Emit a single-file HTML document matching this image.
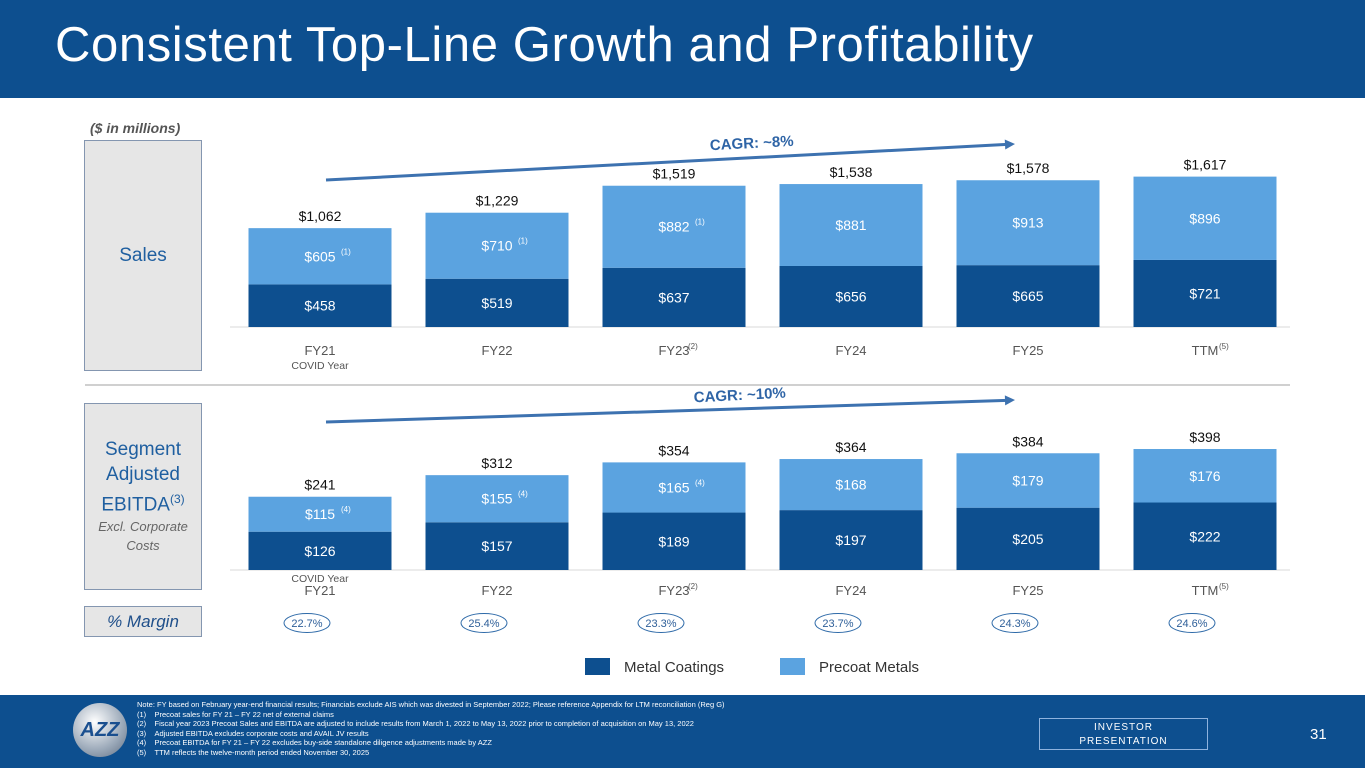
<!DOCTYPE html>
<html><head><meta charset="utf-8"><style>
body{margin:0;width:1365px;height:768px;overflow:hidden;background:#fff;font-family:"Liberation Sans",sans-serif;position:relative}
.abs{position:absolute}
</style></head><body>
<div class="abs" style="left:0;top:0;width:1365px;height:98px;background:#0d4f8f"></div>
<div class="abs" style="left:55px;top:17px;color:#fff;font-size:49px;letter-spacing:0.6px;white-space:nowrap">Consistent Top-Line Growth and Profitability</div>
<div class="abs" style="left:90px;top:120px;font-size:14px;font-style:italic;font-weight:bold;color:#555">($ in millions)</div>
<div class="abs" style="left:84px;top:140px;width:118px;height:231px;background:#e6e6e6;border:1px solid #8496b0;box-sizing:border-box;display:flex;align-items:center;justify-content:center;color:#1f5fa0;font-size:19px">Sales</div>
<div class="abs" style="left:84px;top:403px;width:118px;height:187px;background:#e6e6e6;border:1px solid #8496b0;box-sizing:border-box;text-align:center;color:#1f5fa0;font-size:19px;line-height:25px;padding-top:33px">Segment<br>Adjusted<br>EBITDA<sup style="font-size:12px">(3)</sup><div style="font-size:13px;font-style:italic;color:#666;line-height:19px">Excl. Corporate<br>Costs</div></div>
<div class="abs" style="left:84px;top:606px;width:118px;height:31px;background:#e6e6e6;border:1px solid #8496b0;box-sizing:border-box;text-align:center;color:#1f4f8a;font-size:17px;font-style:italic;line-height:29px">% Margin</div>
<svg class="abs" style="left:0;top:0" width="1365" height="768" id="chart"></svg>
<div class="abs" style="left:0;top:695px;width:1365px;height:73px;background:#0d4f8f"></div>
<div class="abs" style="left:73px;top:703px;width:54px;height:54px;border-radius:50%;background:radial-gradient(circle at 40% 35%,#fff,#9aa8b8 60%,#5d6c80);color:#1a4f8f;font-weight:bold;font-style:italic;font-size:20px;text-align:center;line-height:54px">AZZ</div>
<div class="abs" style="left:137px;top:700px;color:#fff;font-size:7.5px;line-height:9.6px;white-space:nowrap">Note: FY based on February year-end financial results; Financials exclude AIS which was divested in September 2022; Please reference Appendix for LTM reconciliation (Reg G)<br>(1)&nbsp;&nbsp;&nbsp;&nbsp;Precoat sales for FY 21 – FY 22 net of external claims<br>(2)&nbsp;&nbsp;&nbsp;&nbsp;Fiscal year 2023 Precoat Sales and EBITDA are adjusted to include results from March 1, 2022 to May 13, 2022 prior to completion of acquisition on May 13, 2022<br>(3)&nbsp;&nbsp;&nbsp;&nbsp;Adjusted EBITDA excludes corporate costs and AVAIL JV results<br>(4)&nbsp;&nbsp;&nbsp;&nbsp;Precoat EBITDA for FY 21 – FY 22 excludes buy-side standalone diligence adjustments made by AZZ<br>(5)&nbsp;&nbsp;&nbsp;&nbsp;TTM reflects the twelve-month period ended November 30, 2025</div>
<div class="abs" style="left:1039px;top:718px;width:169px;height:32px;border:1px solid #8fb3de;box-sizing:border-box;color:#fff;font-size:10px;letter-spacing:1px;text-align:center;line-height:14px;padding-top:2px">INVESTOR<br>PRESENTATION</div>
<div class="abs" style="left:1310px;top:726px;color:#fff;font-size:15px">31</div>
<script>
const categories=["FY21","FY22","FY23","FY24","FY25","TTM"];
const catSup=["","","(2)","","","(5)"];
const salesMetal=[458,519,637,656,665,721];
const salesPrecoat=[605,710,882,881,913,896];
const salesTotal=["$1,062","$1,229","$1,519","$1,538","$1,578","$1,617"];
const salesSup=["(1)","(1)","(1)","","",""];
const ebitdaMetal=[126,157,189,197,205,222];
const ebitdaPrecoat=[115,155,165,168,179,176];
const ebitdaTotal=["$241","$312","$354","$364","$384","$398"];
const ebitdaSup=["(4)","(4)","(4)","","",""];
const margins=["22.7%","25.4%","23.3%","23.7%","24.3%","24.6%"];
const DARK="#0d4f8f",LIGHT="#5ba3e0";
const svg=document.getElementById('chart');const NS="http://www.w3.org/2000/svg";
function el(t,a,txt){const e=document.createElementNS(NS,t);for(const k in a)e.setAttribute(k,a[k]);if(txt!==undefined)e.textContent=txt;svg.appendChild(e);return e;}
const xC=i=>320+i*177;const BW=143;
function panel(base,scale,metal,pre,tot,sup,axisY,name){
  const y=v=>base-v*scale;
  const ax=el('line',{x1:230,x2:1290,y1:base,y2:base,stroke:'#d9d9d9'});
  
  categories.forEach((c,i)=>{
    const x=xC(i)-BW/2;
    const r1=el('rect',{x:x,y:y(metal[i]),width:BW,height:base-y(metal[i]),fill:DARK});
    
    const top=y(metal[i]+pre[i]);
    const r2=el('rect',{x:x,y:top,width:BW,height:y(metal[i])-top,fill:LIGHT});
    
    const t1=el('text',{x:xC(i),y:(base+y(metal[i]))/2+5,'text-anchor':'middle',fill:'#fff','font-size':14},'$'+metal[i]);
    
    const t2=el('text',{x:xC(i),y:(top+y(metal[i]))/2+5,'text-anchor':'middle',fill:'#fff','font-size':14},'$'+pre[i]);
    
    if(sup[i]){const s=el('text',{x:xC(i)+21,y:(top+y(metal[i]))/2-2,fill:'#fff','font-size':8},sup[i]);}
    const t3=el('text',{x:xC(i),y:top-7,'text-anchor':'middle',fill:'#111','font-size':14},tot[i]);
    
    const cl=el('text',{x:xC(i),y:axisY,'text-anchor':'middle',fill:'#555','font-size':13},c);
    
    if(catSup[i]){const s=el('text',{x:xC(i)+14,y:axisY-6,fill:'#555','font-size':8},catSup[i]);}
  });
}
panel(327,0.093,salesMetal,salesPrecoat,salesTotal,salesSup,355,'sales');
panel(570,0.304,ebitdaMetal,ebitdaPrecoat,ebitdaTotal,ebitdaSup,595,'ebitda');
let cv=el('text',{x:xC(0),y:369,'text-anchor':'middle',fill:'#555','font-size':10.5},'COVID Year');
cv=el('text',{x:xC(0),y:582,'text-anchor':'middle',fill:'#555','font-size':10.5},'COVID Year');
const sep=el('line',{x1:85,x2:1290,y1:385,y2:385,stroke:'#d0d0d0','stroke-width':2});
margins.forEach((m,i)=>{
  const e=el('ellipse',{cx:xC(i)-13,cy:623,rx:23,ry:9.5,fill:'none',stroke:'#2e6aa8'});
  const t=el('text',{x:xC(i)-13,y:627,'text-anchor':'middle',fill:'#2e5f99','font-size':11},m);
});
function arrow(x1,y1,x2,y2,label,lx,ly,nm){
  const l=el('line',{x1,y1,x2:x2-8,y2:y2+0.4,stroke:'#3d72b0','stroke-width':3});
  const a=Math.atan2(y2-y1,x2-x1),p=[[x2,y2],[x2-10*Math.cos(a)+5*Math.sin(a),y2-10*Math.sin(a)-5*Math.cos(a)],[x2-10*Math.cos(a)-5*Math.sin(a),y2-10*Math.sin(a)+5*Math.cos(a)]];
  const h=el('polygon',{points:p.map(q=>q.join(',')).join(' '),fill:'#3d72b0'});
  const t=el('text',{x:lx,y:ly,fill:'#2e64a6','font-size':15,'font-weight':'bold','text-anchor':'middle',transform:`rotate(-3 ${lx} ${ly})`},label);
}
arrow(326,180,1015,144,'CAGR: ~8%',752,148,'sales-cagr');
arrow(326,422,1015,400,'CAGR: ~10%',740,400,'ebitda-cagr');
let r=el('rect',{x:585,y:658,width:25,height:17,fill:DARK});
let t=el('text',{x:624,y:672,fill:'#333','font-size':15},'Metal Coatings');
r=el('rect',{x:780,y:658,width:25,height:17,fill:LIGHT});
t=el('text',{x:819,y:672,fill:'#333','font-size':15},'Precoat Metals');
</script>
</body></html>
